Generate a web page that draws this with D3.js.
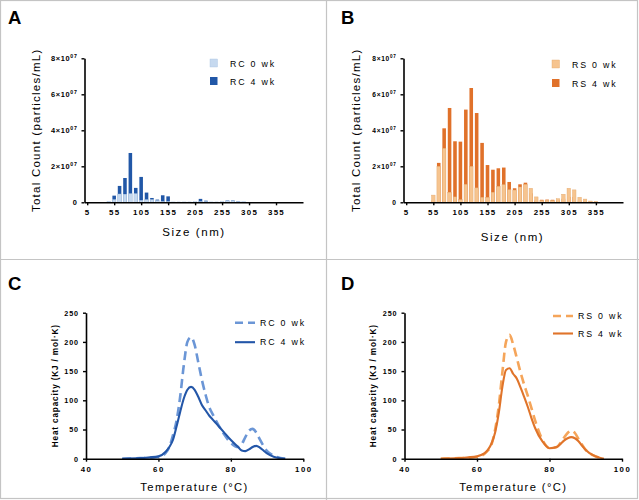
<!DOCTYPE html>
<html><head><meta charset="utf-8">
<script src="https://cdn.jsdelivr.net/npm/d3@7/dist/d3.min.js"></script>
<style>
body{margin:0;background:#fff}
svg{display:block}
text{font-family:"Liberation Sans",Arial,sans-serif}
</style>
</head><body>
<svg id="fig" width="639" height="500"></svg>
<script>
// ---------- DATA ----------
// Panel A: RC, counts in units of 1e7 particles/mL
const sizeBinsA = [45,55,65,75,85,95,105,115,125,135,145,155,165,175,185,195,205,215,225,235,245,255,265,275,285,295];
const rc0Counts = [0.05,0.15,0.46,0.45,0.48,0.48,0.11,0.15,0.15,0.10,0.05,0.05,0.02,0.02,0.02,0.02,0.03,0.05,0.05,0.02,0.02,0.03,0.08,0.08,0.05,0.03];
const rc4Counts = [0.02,0.37,0.91,1.35,2.74,0.80,1.41,0.54,0.24,0.15,0.39,0.33,0.01,0.01,0.01,0.01,0.01,0.19,0.09,0.01,0.01,0.02,0.10,0.10,0.05,0.02];
// Panel B: RS
const sizeBinsB = [55,65,75,85,95,105,115,125,135,145,155,165,175,185,195,205,215,225,235,245,255,265,275,285,295,305,315,325,335,345,355];
const rs0Counts = [0.40,2.00,3.00,0.56,0.30,0.15,1.00,2.00,0.80,0.28,0.28,0.56,0.89,0.98,0.70,0.68,0.85,1.00,0.78,0.30,0.10,0.12,0.10,0.20,0.45,0.78,0.69,0.28,0.18,0.07,0.05];
const rs4Counts = [0.10,2.19,4.11,5.24,3.39,3.37,5.15,6.35,4.96,3.30,2.07,1.81,1.89,1.93,1.13,0.78,1.00,1.09,0.50,0.10,0.14,0.15,0.14,0.10,0.20,0.30,0.30,0.10,0.05,0.02,0.02];
const sizeTicks = [5,55,105,155,205,255,305,355];
const countTicks = [0,2,4,6,8];
// Panels C, D: heat capacity (KJ / mol·K) vs temperature
const temps = [50,55,60,62,63,64,65,66,67,68,69,70,71,72,73,74,75,76,78,80,82,83,84,85,86,87,88,89,90,92,95];
const rc0Cp = [0,1,3,10,20,40,65,106,160,200,208,195,165,135,110,89,76,64,43,27,20,25,37,48,51,45,33,22,13,5,0];
const rc4Cp = [0,1,4,12,20,32,55,80,103,118,123,118,106,92,83,74,67,60,46,32,20,14,13,16,20,22,19,14,9,3,0];
const rs0Cp = [0,1,3,8,14,24,50,90,148,200,212,195,172,148,127,108,87,66,33,18,20,27,36,44,48,44,34,24,15,6,0];
const rs4Cp = [0,1,4,9,15,26,45,78,123,152,155,145,137,122,106,89,70,53,30,18,20,25,31,35,37,35,30,22,15,6,0];
const tempTicks = [40,60,80,100];
const cpTicks = [0,50,100,150,200,250];

// ---------- DRAW ----------
const svg = d3.select("#fig");
svg.append("rect").attr("x",0).attr("y",0).attr("width",639).attr("height",500).attr("fill","#fff");
// frame
const frameCol = "#c4c4c4";
svg.append("rect").attr("x",0.5).attr("y",0.5).attr("width",637).attr("height",498)
  .attr("fill","none").attr("stroke",frameCol).attr("stroke-width",1.2);
svg.append("line").attr("x1",326.5).attr("x2",326.5).attr("y1",0).attr("y2",500).attr("stroke",frameCol).attr("stroke-width",1.2);
svg.append("line").attr("x1",0).attr("x2",639).attr("y1",259.5).attr("y2",259.5).attr("stroke",frameCol).attr("stroke-width",1.2);

function styleAxis(g){
  g.select(".domain").attr("stroke","#000").attr("stroke-width",1.6);
  g.selectAll(".tick line").attr("stroke","#000").attr("stroke-width",1.4);
}

function letter(t,x,y){
  svg.append("text").attr("x",x).attr("y",y).attr("font-size",18.5).attr("font-weight","bold").text(t);
}

function barPanel(o){
  const x = d3.scaleLinear().domain([0,405]).range([o.left,o.right]);
  const y = d3.scaleLinear().domain([0,8]).range([o.bottom,o.top]);
  const bw = (x(10)-x(0))*0.66;
  const g = svg.append("g");
  // 4 wk behind, 0 wk in front
  g.selectAll(".b4").data(o.bins).enter().append("rect")
    .attr("x",(d)=>x(d)-bw/2).attr("width",bw)
    .attr("y",(d,i)=>y(o.s4[i])).attr("height",(d,i)=>y(0)-y(o.s4[i]))
    .attr("fill",o.c4);
  g.selectAll(".b0").data(o.bins).enter().append("rect")
    .attr("x",(d)=>x(d)-bw/2).attr("width",bw)
    .attr("y",(d,i)=>y(o.s0[i])).attr("height",(d,i)=>y(0)-y(o.s0[i]))
    .attr("fill",o.c0).attr("stroke",o.c0s).attr("stroke-width",0.4);
  const ax = svg.append("g").attr("transform",`translate(0,${o.bottom})`)
    .call(d3.axisBottom(x).tickValues(sizeTicks).tickSize(3).tickSizeOuter(0).tickPadding(4));
  styleAxis(ax);
  ax.selectAll(".tick text").attr("font-size",7.9).attr("font-weight","bold").attr("letter-spacing",1.3).attr("fill","#000")
    .attr("font-family","Liberation Sans, Arial, sans-serif");
  const ay = svg.append("g").attr("transform",`translate(${o.left},0)`)
    .call(d3.axisLeft(y).tickValues(countTicks).tickSize(3).tickSizeOuter(0).tickPadding(4));
  styleAxis(ay);
  ay.selectAll(".tick text").attr("font-size",o.ytf).attr("font-weight","bold").attr("letter-spacing",0.7).attr("fill","#000")
    .attr("font-family","Liberation Sans, Arial, sans-serif")
    .each(function(d){
      const t = d3.select(this); t.text(null);
      if(d===0){ t.text("0"); }
      else{
        t.append("tspan").text(d+"×10");
        t.append("tspan").attr("dy",-3).attr("font-size",o.ytf*0.7).text("07");
      }
    });
  // titles
  svg.append("text").attr("transform",`translate(${o.ytx},${(o.top+o.bottom)/2}) rotate(-90)`)
    .attr("text-anchor","middle").attr("font-size",11.5).attr("letter-spacing",1.25).text("Total Count (particles/mL)");
  svg.append("text").attr("x",o.xtx).attr("y",o.xty).attr("text-anchor","middle")
    .attr("font-size",11.5).attr("letter-spacing",1.6).text("Size (nm)");
  // legend
  [[o.c0,o.l0,o.c0s],[o.c4,o.l4,null]].forEach((it,i)=>{
    svg.append("rect").attr("x",o.lx).attr("y",o.ly+i*o.ldy-7.5).attr("width",7.5).attr("height",8)
      .attr("fill",it[0]).attr("stroke",it[2]||"none").attr("stroke-width",0.4);
    svg.append("text").attr("x",o.lx+20).attr("y",o.ly+i*o.ldy).attr("font-size",8.8)
      .attr("letter-spacing",1.8).text(it[1]);
  });
}

function linePanel(o){
  const x = d3.scaleLinear().domain([40,100]).range([o.left,o.right]);
  const y = d3.scaleLinear().domain([0,250]).range([o.bottom,o.top]);
  const line = d3.line().x((d)=>x(d[0])).y((d)=>y(d[1])).curve(d3.curveMonotoneX);
  const d0 = temps.map((t,i)=>[t,o.s0[i]]);
  const d4 = temps.map((t,i)=>[t,o.s4[i]]);
  svg.append("path").attr("d",line(d0)).attr("fill","none").attr("stroke",o.c0)
    .attr("stroke-width",2.6).attr("stroke-dasharray","9,5");
  svg.append("path").attr("d",line(d4)).attr("fill","none").attr("stroke",o.c4)
    .attr("stroke-width",2.1);
  const ax = svg.append("g").attr("transform",`translate(0,${o.bottom})`)
    .call(d3.axisBottom(x).tickValues(tempTicks).tickSize(3).tickSizeOuter(0).tickPadding(5));
  styleAxis(ax);
  ax.selectAll(".tick text").attr("font-size",7.8).attr("font-weight","bold").attr("letter-spacing",1.5).attr("fill","#000")
    .attr("font-family","Liberation Sans, Arial, sans-serif");
  const ay = svg.append("g").attr("transform",`translate(${o.left},0)`)
    .call(d3.axisLeft(y).tickValues(cpTicks).tickSize(3).tickSizeOuter(0).tickPadding(4));
  styleAxis(ay);
  ay.selectAll(".tick text").attr("font-size",7.2).attr("font-weight","bold").attr("letter-spacing",0.9).attr("fill","#000")
    .attr("font-family","Liberation Sans, Arial, sans-serif");
  svg.append("text").attr("transform",`translate(${o.ytx},${(o.top+o.bottom)/2}) rotate(-90)`)
    .attr("text-anchor","middle").attr("font-size",8.2).attr("font-weight","bold").attr("letter-spacing",0.85)
    .text("Heat capacity (KJ / mol·K)");
  svg.append("text").attr("x",o.xtx).attr("y",491).attr("text-anchor","middle")
    .attr("font-size",11.2).attr("letter-spacing",1.4).text("Temperature (°C)");
  [[o.c0,o.l0,true],[o.c4,o.l4,false]].forEach((it,i)=>{
    const yy = o.ly+i*o.ldy;
    svg.append("line").attr("x1",o.lx).attr("x2",o.lx+20).attr("y1",yy).attr("y2",yy)
      .attr("stroke",it[0]).attr("stroke-width",it[2]?2.6:2.1).attr("stroke-dasharray",it[2]?"8,5":null);
    svg.append("text").attr("x",o.lx+25).attr("y",yy+3).attr("font-size",8.8)
      .attr("letter-spacing",1.8).text(it[1]);
  });
}

barPanel({left:84.5,right:303,top:58.3,bottom:202.3,bins:sizeBinsA,s0:rc0Counts,s4:rc4Counts,
  c0:"#c6d9ef",c0s:"#a9c2e0",c4:"#2157a7",l0:"RC 0 wk",l4:"RC 4 wk",lx:210,ly:66.5,ldy:18,
  ytx:39.5,xtx:194,xty:236,ytf:7.4});
barPanel({left:403.5,right:623,top:58.3,bottom:202.3,bins:sizeBinsB,s0:rs0Counts,s4:rs4Counts,
  c0:"#f6c48f",c0s:"#e3a86c",c4:"#e0712a",l0:"RS 0 wk",l4:"RS 4 wk",lx:552,ly:67.5,ldy:19,
  ytx:359.5,xtx:512.5,xty:240.5,ytf:6.6});
linePanel({left:86,right:303.3,top:312.7,bottom:458.7,s0:rc0Cp,s4:rc4Cp,c0:"#6b96d6",c4:"#2356a8",
  l0:"RC 0 wk",l4:"RC 4 wk",lx:235,ly:322.7,ldy:19.5,ytx:57.5,xtx:194.5});
linePanel({left:404.5,right:622,top:312.7,bottom:458.7,s0:rs0Cp,s4:rs4Cp,c0:"#f5a55a",c4:"#e0742a",
  l0:"RS 0 wk",l4:"RS 4 wk",lx:553,ly:316,ldy:17.5,ytx:375.7,xtx:513.3});

letter("A",8,23.5);
letter("B",341,23.5);
letter("C",8,290);
letter("D",341,290);
</script>
</body></html>
